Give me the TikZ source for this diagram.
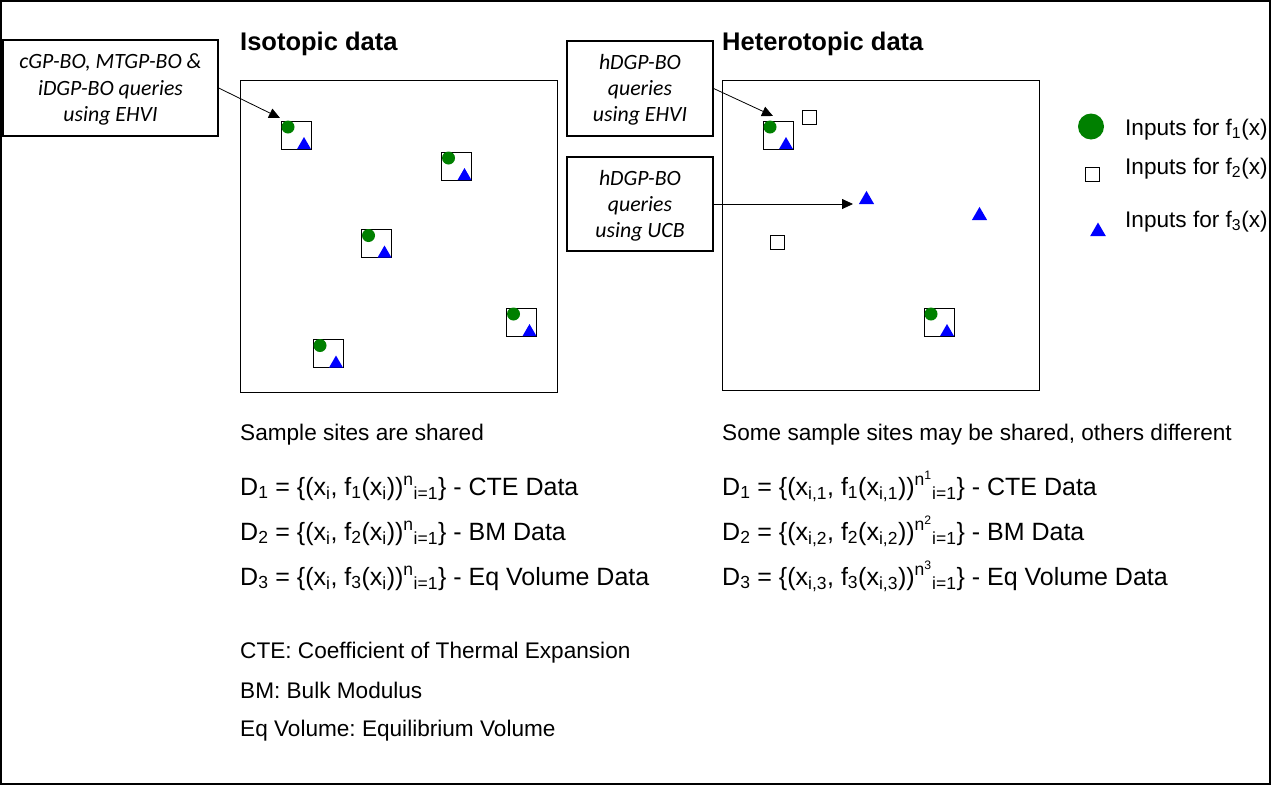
\documentclass[tikz,border=0pt]{standalone}
\usepackage{fontspec}
\setmainfont{Liberation Sans}
\newfontfamily\boxfont{Carlito}
\usetikzlibrary{arrows.meta,shapes.geometric}
\definecolor{dgreen}{RGB}{0,128,0}
\frenchspacing
\newcommand{\sitebox}[3]{%
  \node[site] (#1) at (#2,#3) {};
  \node[dot] at ([shift={(-8,-8)}]#1.center) {};
  \node[tri, anchor=south] at ([shift={(8,14)}]#1.center) {};
}
\newcommand{\subt}[1]{\textsubscript{#1}}
\newcommand{\supt}[1]{\textsuperscript{#1}}
\begin{document}
\begin{tikzpicture}[x=1pt,y=-1pt,
  panel/.style={draw, line width=1pt},
  qbox/.style={draw, line width=1.3pt, inner sep=0},
  qtext/.style={font=\boxfont\itshape\fontsize{21.8}{26.2}\selectfont, align=center, inner sep=0},
  site/.style={draw, line width=1pt, minimum width=30, minimum height=28, inner sep=0, outer sep=0},
  esite/.style={draw, line width=1pt, minimum size=14, inner sep=0, outer sep=0},
  dot/.style={circle, fill=dgreen, inner sep=0, outer sep=0, minimum size=13},
  tri/.style={regular polygon, regular polygon sides=3, fill=blue, inner sep=0, outer sep=0, minimum size=16},
  bigtri/.style={tri, minimum size=17.5},
  title/.style={font=\bfseries\fontsize{25.5}{30}\selectfont, anchor=base west, inner sep=0},
  body/.style={font=\fontsize{22.6}{27}\selectfont, anchor=base west, inner sep=0},
  eqn/.style={font=\fontsize{25}{30}\selectfont, anchor=base west, inner sep=0},
  arr/.style={-{Triangle[length=11pt,width=10pt]}, line width=0.8pt}]
\useasboundingbox (0,0) rectangle (1271,785);
\draw[line width=1.5pt] (1,1) rectangle (1270,784);

% titles
\node[title] (tiso) at (240,50) {Isotopic data};
\node[title] (thet) at (722,50) {Heterotopic data};

% panels
\draw[panel] (240,80) rectangle (557,392);
\draw[panel] (722,80) rectangle (1039,390);

% query boxes
\node[qbox, minimum width=215, minimum height=96] (qa) at (110.5,88) {};
\node[qtext] (qat) at ([yshift=-1.5]qa.center) {cGP-BO, MTGP-BO \&\\iDGP-BO queries\\using EHVI};
\node[qbox, minimum width=146, minimum height=95] (qb) at (640,88.5) {};
\node[qtext] (qbt) at ([yshift=-1.5]qb.center) {hDGP-BO\\queries\\using EHVI};
\node[qbox, minimum width=146, minimum height=94] (qc) at (640,204) {};
\node[qtext] (qct) at ([yshift=-1.5]qc.center) {hDGP-BO\\queries\\using UCB};

% isotopic sites
\sitebox{s1}{296}{135}
\sitebox{s2}{456.5}{166}
\sitebox{s3}{376.5}{243.5}
\sitebox{s4}{328}{353.5}
\sitebox{s5}{521.5}{322}

% heterotopic sites
\sitebox{h1}{778}{135}
\sitebox{h2}{939}{322}
\node[esite] (e1) at (809,117.5) {};
\node[esite] (e2) at (777,242.5) {};
\node[bigtri, anchor=south] (t1) at (866.5,204) {};
\node[bigtri, anchor=south] (t2) at (979.5,220) {};

% arrows
\coordinate (ucbend) at (853,204);
\draw[arr] (qa.east) -- ([shift={(-1,-3)}]s1.north west);
\draw[arr] (qb.east) -- ([shift={(10,-5)}]h1.north west);
\draw[arr] (qc.east) -- (ucbend);

% legend
\node[circle, fill=dgreen, inner sep=0, minimum size=26] (l1) at (1091,126.5) {};
\node[esite] (l2) at (1092,174.5) {};
\node[tri, minimum size=18, anchor=south] (l3) at (1098,236) {};
\node[body] (lt1) at (1125,135) {Inputs for f\subt{1}(x)};
\node[body] (lt2) at (1125,174) {Inputs for f\subt{2}(x)};
\node[body] (lt3) at (1125,227) {Inputs for f\subt{3}(x)};

% texts
\node[body] (iso1) at (240,440) {Sample sites are shared};
\node[body] (het1) at (722,440) {Some sample sites may be shared, others different};

\node[eqn] (ie1) at (240,495) {D\subt{1} = \{(x\subt{i}, f\subt{1}(x\subt{i}))\supt{n}\subt{i=1}\} - CTE Data};
\node[eqn] (ie2) at (240,540) {D\subt{2} = \{(x\subt{i}, f\subt{2}(x\subt{i}))\supt{n}\subt{i=1}\} - BM Data};
\node[eqn] (ie3) at (240,585) {D\subt{3} = \{(x\subt{i}, f\subt{3}(x\subt{i}))\supt{n}\subt{i=1}\} - Eq Volume Data};

\node[eqn] (he1) at (722,495) {D\subt{1} = \{(x\subt{i,1}, f\subt{1}(x\subt{i,1}))\supt{n\supt{1}}\subt{i=1}\} - CTE Data};
\node[eqn] (he2) at (722,540) {D\subt{2} = \{(x\subt{i,2}, f\subt{2}(x\subt{i,2}))\supt{n\supt{2}}\subt{i=1}\} - BM Data};
\node[eqn] (he3) at (722,585) {D\subt{3} = \{(x\subt{i,3}, f\subt{3}(x\subt{i,3}))\supt{n\supt{3}}\subt{i=1}\} - Eq Volume Data};

\node[body] (ab1) at (240,658) {CTE: Coefficient of Thermal Expansion};
\node[body] (ab2) at (240,698) {BM: Bulk Modulus};
\node[body] (ab3) at (240,736) {Eq Volume: Equilibrium Volume};
\end{tikzpicture}
\end{document}
